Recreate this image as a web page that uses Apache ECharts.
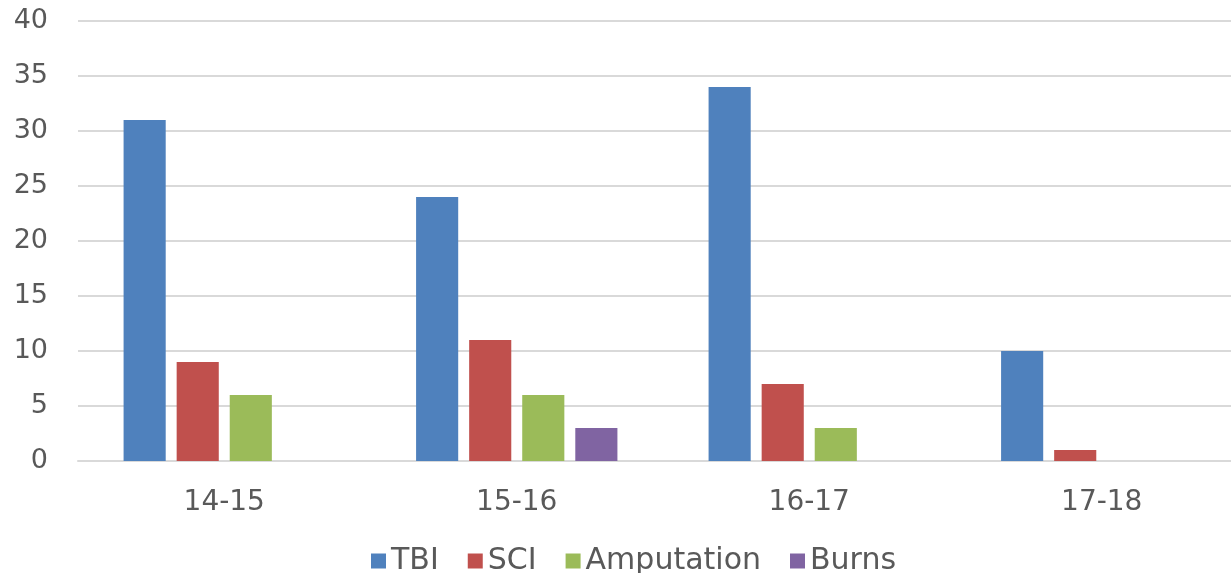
<!DOCTYPE html>
<html><head><meta charset="utf-8">
<script src="https://cdn.jsdelivr.net/npm/echarts@6/dist/echarts.min.js"></script>
<style>html,body{margin:0;padding:0;background:#fff}#c{width:1231px;height:573px}</style>
</head><body><div id="c"></div>
<script>
const categories = ['14-15','15-16','16-17','17-18'];
const tbi = [31, 24, 34, 10];
const sci = [9, 11, 7, 1];
const amputation = [6, 6, 3, 0];
const burns = [0, 3, 0, 0];
const seriesNames = ['TBI','SCI','Amputation','Burns'];
const colors = ['#4F81BD','#C0504D','#9BBB59','#8064A2'];
const font = '"DejaVu Sans", sans-serif';
const chart = echarts.init(document.getElementById('c'));
const data = [tbi, sci, amputation, burns];
chart.setOption({
  animation: false,
  color: colors,
  grid: {left: 78, width: 1170, top: 21, height: 440, containLabel: false, outerBoundsMode: 'none'},
  legend: {
    bottom: -8, left: 366, itemWidth: 15, itemHeight: 15, itemGap: 29,
    icon: 'rect',
    textStyle: {fontFamily: font, fontSize: 30, color: '#595959'},
    data: seriesNames
  },
  xAxis: {
    type: 'category', data: categories,
    axisLine: {lineStyle: {color: '#d9d9d9', width: 2}},
    axisTick: {show: false},
    axisLabel: {fontFamily: font, fontSize: 28, color: '#595959', margin: 28}
  },
  yAxis: {
    type: 'value', min: 0, max: 40, interval: 5,
    axisLine: {show: false}, axisTick: {show: false},
    splitLine: {lineStyle: {color: '#d9d9d9', width: 2}},
    axisLabel: {fontFamily: font, fontSize: 27, color: '#595959', margin: 30}
  },
  series: seriesNames.map((n, i) => ({
    name: n, type: 'bar', data: data[i],
    barWidth: '14.4%', barGap: '26%', barCategoryGap: '30%',
    itemStyle: {color: colors[i]}
  }))
});
</script></body></html>
